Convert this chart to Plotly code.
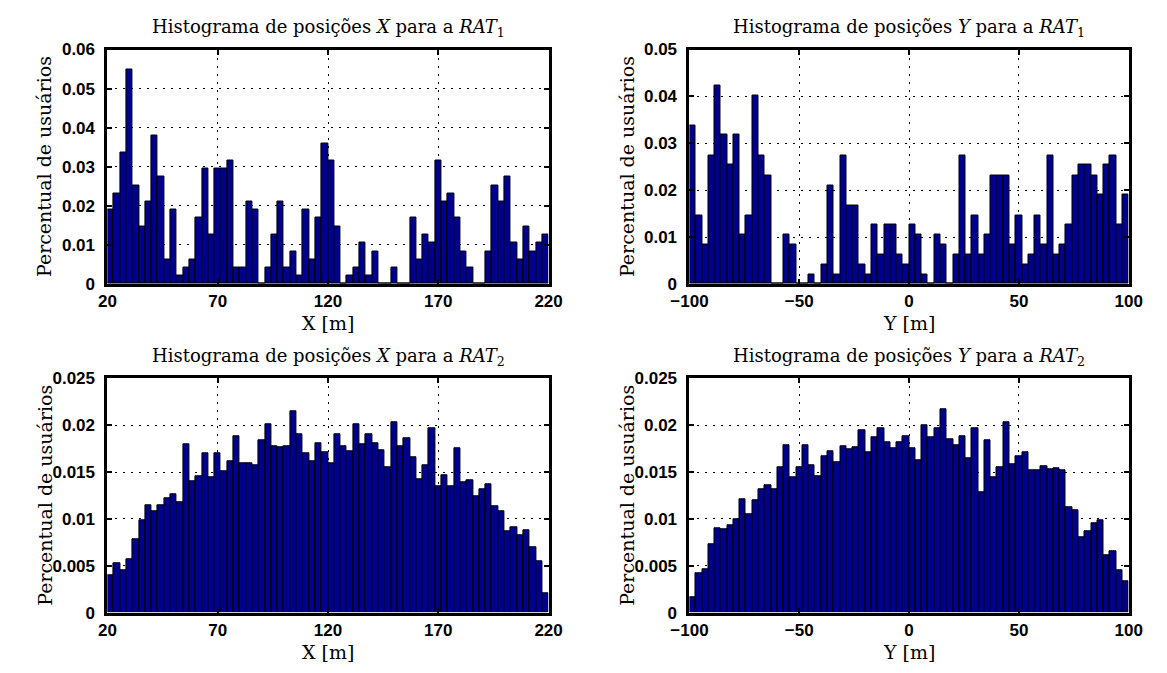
import numpy as np
import plotly.graph_objects as go

# Histogram bin fractions (70 equal bins per panel)
x_rat1 = [0.0191, 0.0232, 0.0337, 0.0549, 0.0253, 0.0148, 0.0210, 0.0381, 0.0275, 0.0063,
          0.0191, 0.0021, 0.0043, 0.0063, 0.0169, 0.0295, 0.0127, 0.0295, 0.0295, 0.0316,
          0.0043, 0.0043, 0.0210, 0.0191, 0.0, 0.0043, 0.0127, 0.0210, 0.0043, 0.0084,
          0.0021, 0.0191, 0.0063, 0.0169, 0.0359, 0.0316, 0.0148, 0.0, 0.0021, 0.0043,
          0.0105, 0.0021, 0.0084, 0.0, 0.0, 0.0043, 0.0, 0.0, 0.0169, 0.0063,
          0.0127, 0.0105, 0.0316, 0.0210, 0.0232, 0.0169, 0.0084, 0.0043, 0.0, 0.0,
          0.0084, 0.0253, 0.0210, 0.0275, 0.0105, 0.0063, 0.0148, 0.0084, 0.0105, 0.0127]

y_rat1 = [0.0338, 0.0147, 0.0084, 0.0274, 0.0423, 0.0318, 0.0254, 0.0318, 0.0105, 0.0147,
          0.0402, 0.0274, 0.0232, 0.0, 0.0, 0.0105, 0.0084, 0.0, 0.0, 0.0021,
          0.0, 0.0041, 0.0211, 0.0021, 0.0274, 0.0168, 0.0168, 0.0041, 0.0021, 0.0126,
          0.0062, 0.0126, 0.0126, 0.0062, 0.0041, 0.0126, 0.0105, 0.0021, 0.0, 0.0105,
          0.0084, 0.0, 0.0062, 0.0274, 0.0062, 0.0147, 0.0062, 0.0105, 0.0232, 0.0232,
          0.0232, 0.0084, 0.0147, 0.0041, 0.0062, 0.0147, 0.0084, 0.0274, 0.0062, 0.0084,
          0.0126, 0.0232, 0.0254, 0.0254, 0.0232, 0.0190, 0.0254, 0.0274, 0.0126, 0.0190]

x_rat2 = [0.0040, 0.0053, 0.0045, 0.0057, 0.0078, 0.0099, 0.0115, 0.0108, 0.0115, 0.0122,
          0.0126, 0.0118, 0.0180, 0.0140, 0.0145, 0.0170, 0.0144, 0.0170, 0.0151, 0.0161,
          0.0188, 0.0159, 0.0159, 0.0157, 0.0184, 0.0201, 0.0177, 0.0176, 0.0177, 0.0215,
          0.0190, 0.0170, 0.0161, 0.0181, 0.0171, 0.0159, 0.0190, 0.0178, 0.0172, 0.0201,
          0.0180, 0.0190, 0.0181, 0.0173, 0.0155, 0.0203, 0.0178, 0.0186, 0.0166, 0.0142,
          0.0157, 0.0197, 0.0135, 0.0147, 0.0135, 0.0175, 0.0139, 0.0141, 0.0124, 0.0132,
          0.0137, 0.0114, 0.0108, 0.0087, 0.0091, 0.0083, 0.0088, 0.0070, 0.0055, 0.0021]

y_rat2 = [0.0017, 0.0042, 0.0046, 0.0073, 0.0090, 0.0089, 0.0093, 0.0100, 0.0121, 0.0105,
          0.0120, 0.0132, 0.0136, 0.0132, 0.0155, 0.0179, 0.0144, 0.0155, 0.0179, 0.0157,
          0.0146, 0.0167, 0.0172, 0.0160, 0.0177, 0.0174, 0.0176, 0.0195, 0.0171, 0.0187,
          0.0197, 0.0182, 0.0175, 0.0182, 0.0188, 0.0175, 0.0163, 0.0200, 0.0187, 0.0197,
          0.0217, 0.0185, 0.0179, 0.0188, 0.0165, 0.0197, 0.0128, 0.0184, 0.0144, 0.0155,
          0.0203, 0.0158, 0.0167, 0.0171, 0.0152, 0.0152, 0.0156, 0.0153, 0.0154, 0.0152,
          0.0113, 0.0109, 0.0081, 0.0087, 0.0095, 0.0099, 0.0061, 0.0066, 0.0045, 0.0034]

# Axis ranges and tick labels
x_range = [20, 220]
y_pos_range = [-100, 100]
x_ticks = [20, 70, 120, 170, 220]
x_ticktext = ["20", "70", "120", "170", "220"]
y_pos_ticks = [-100, -50, 0, 50, 100]
y_pos_ticktext = ["\u2212100", "\u221250", "0", "50", "100"]
ticks_top_left = [0, 0.01, 0.02, 0.03, 0.04, 0.05, 0.06]
ticks_top_right = [0, 0.01, 0.02, 0.03, 0.04, 0.05]
ticks_bottom = [0, 0.005, 0.01, 0.015, 0.02, 0.025]
ticktext_top_left = ["0", "0.01", "0.02", "0.03", "0.04", "0.05", "0.06"]
ticktext_top_right = ["0", "0.01", "0.02", "0.03", "0.04", "0.05"]
ticktext_bottom = ["0", "0.005", "0.01", "0.015", "0.02", "0.025"]

titles = [
    "Histograma de posições <i>X</i> para a <i>RAT</i><sub>1</sub>",
    "Histograma de posições <i>Y</i> para a <i>RAT</i><sub>1</sub>",
    "Histograma de posições <i>X</i> para a <i>RAT</i><sub>2</sub>",
    "Histograma de posições <i>Y</i> para a <i>RAT</i><sub>2</sub>",
]
xlabels = ["X [m]", "Y [m]", "X [m]", "Y [m]"]
ylabel = "Percentual de usuários"

W, H = 1167, 673
FACE = "#00008f"
SERIF = "DejaVu Serif"
SANS = "Liberation Sans"

# Panel boxes in pixels: (left, right, top, bottom)
boxes = [(91, 545, 41.7, 283), (690, 1142, 41.7, 283),
         (91, 545, 380, 621.3), (690, 1142, 380, 621.3)]

panels = [
    (x_rat1, x_range, x_ticks, x_ticktext, [0, 0.06], ticks_top_left, ticktext_top_left),
    (y_rat1, y_pos_range, y_pos_ticks, y_pos_ticktext, [0, 0.05], ticks_top_right, ticktext_top_right),
    (x_rat2, x_range, x_ticks, x_ticktext, [0, 0.025], ticks_bottom, ticktext_bottom),
    (y_rat2, y_pos_range, y_pos_ticks, y_pos_ticktext, [0, 0.025], ticks_bottom, ticktext_bottom),
]

fig = go.Figure()
annotations = []

for i, (vals, xr, xt, xtt, yr, yt, ytt) in enumerate(panels):
    n = i + 1
    xa = "x" if n == 1 else f"x{n}"
    ya = "y" if n == 1 else f"y{n}"
    edges = np.linspace(xr[0], xr[1], len(vals) + 1)
    centers = (edges[:-1] + edges[1:]) / 2
    width = edges[1] - edges[0]
    fig.add_trace(go.Bar(
        x=centers, y=vals, width=width, xaxis=xa, yaxis=ya,
        marker=dict(color=FACE, line=dict(color="black", width=1)),
        showlegend=False, hoverinfo="x+y",
    ))

    left, right, top, bottom = boxes[i]
    axis_common = dict(
        showline=True, linecolor="black", linewidth=3, mirror="ticks",
        ticks="inside", ticklen=5, tickwidth=2, tickcolor="black",
        showgrid=True, gridcolor="black", gridwidth=1, griddash="2px,6px",
        zeroline=False, tickfont=dict(family=SANS, size=17, color="black", weight="bold"),
    )
    xkey = "xaxis" if n == 1 else f"xaxis{n}"
    ykey = "yaxis" if n == 1 else f"yaxis{n}"
    fig.update_layout({
        xkey: dict(axis_common, domain=[left / W, right / W], range=xr,
                   tickvals=xt, ticktext=xtt, anchor=ya, ticklabelstandoff=0),
        ykey: dict(axis_common, domain=[1 - bottom / H, 1 - top / H], range=yr,
                   tickvals=yt, ticktext=ytt, anchor=xa, ticklabelstandoff=6),
    })

    cx = (left + right) / 2 / W
    annotations.append(dict(
        text=titles[i], x=cx, y=1 - (top - 22) / H, xref="paper", yref="paper",
        xanchor="center", yanchor="middle", showarrow=False,
        font=dict(family=SERIF, size=18, color="black"),
    ))
    annotations.append(dict(
        text=xlabels[i], x=cx, y=1 - (bottom + 40) / H, xref="paper", yref="paper",
        xanchor="center", yanchor="middle", showarrow=False,
        font=dict(family=SERIF, size=19, color="black"),
    ))
    annotations.append(dict(
        text=ylabel, x=(left - 65) / W, y=1 - (top + bottom) / 2 / H, xref="paper", yref="paper",
        xanchor="center", yanchor="middle", showarrow=False, textangle=-90,
        font=dict(family=SERIF, size=19, color="black"),
    ))

fig.update_layout(
    width=W, height=H, margin=dict(l=0, r=0, t=0, b=0),
    paper_bgcolor="white", plot_bgcolor="white",
    bargap=0, annotations=annotations,
)

fig.write_html("out.html")
